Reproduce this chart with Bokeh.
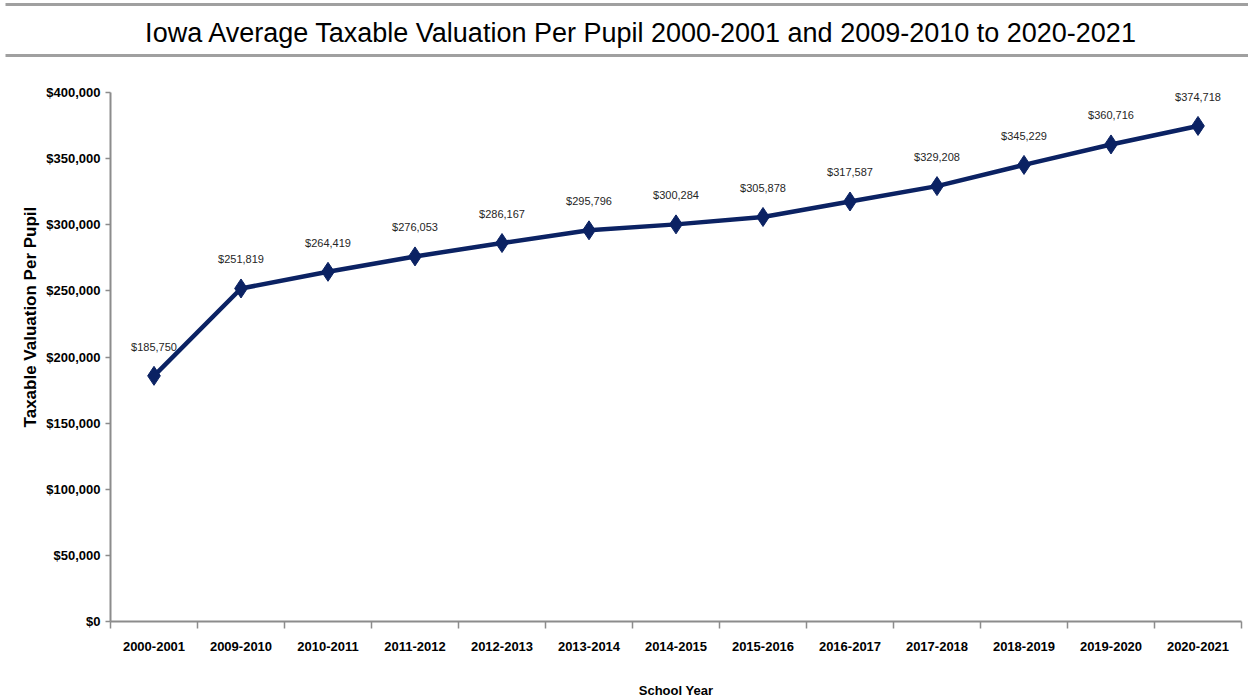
from bokeh.plotting import figure
from bokeh.layouts import row
from bokeh.models import Range1d, FixedTicker, NumeralTickFormatter, ColumnDataSource
from bokeh.core.properties import value
from bokeh.embed import file_html
from bokeh.resources import INLINE

title_text = "Iowa Average Taxable Valuation Per Pupil 2000-2001 and 2009-2010 to 2020-2021"
y_title = "Taxable Valuation Per Pupil"
x_title = "School Year"
years = ["2000-2001", "2009-2010", "2010-2011", "2011-2012", "2012-2013", "2013-2014",
         "2014-2015", "2015-2016", "2016-2017", "2017-2018", "2018-2019", "2019-2020", "2020-2021"]
valuation = [185750, 251819, 264419, 276053, 286167, 295796, 300284, 305878,
             317587, 329208, 345229, 360716, 374718]
y_ticks = [0, 50000, 100000, 150000, 200000, 250000, 300000, 350000, 400000]

FONT = "Liberation Sans"
LINE = "#0b2263"
GRAY = "#8c8c8c"

# ---- title strip (its own root, full width) ----
t = figure(width=1248, height=60, output_backend="svg", toolbar_location=None,
           x_range=Range1d(0, 1248), y_range=Range1d(0, 60),
           min_border=0, outline_line_color=None)
t.axis.visible = False
t.grid.visible = False
t.segment(x0=[5, 5], y0=[56, 5], x1=[1248, 1248], y1=[56, 5],
          line_color="#a0a0a0", line_width=3)
t.text(x=[641], y=[28], text=[title_text], text_align="center", text_baseline="middle",
       text_font=value(FONT), text_font_size="27px", text_color="#000000")

# ---- narrow strip holding the y-axis title ----
yl = figure(width=40, height=640, output_backend="svg", toolbar_location=None,
            x_range=Range1d(0, 40), y_range=Range1d(0, 530),
            min_border_left=0, min_border_right=0, min_border_top=32, min_border_bottom=78,
            outline_line_color=None)
yl.axis.visible = False
yl.grid.visible = False
yl.text(x=[30], y=[305], text=[y_title], angle=1.5707963, text_align="center",
        text_baseline="middle", text_font=value(FONT), text_font_style="bold",
        text_font_size="17px", text_color="#000000")

# ---- main chart ----
x = [i + 0.5 for i in range(len(years))]
src = ColumnDataSource(dict(x=x, y=valuation, lab=[f"${v:,}" for v in valuation]))

p = figure(width=1208, height=640, output_backend="svg", toolbar_location=None,
           x_range=Range1d(0, len(years)), y_range=Range1d(0, 400000),
           min_border_left=70, min_border_right=7, min_border_top=32, min_border_bottom=78,
           outline_line_color=None)
p.grid.visible = False

p.line("x", "y", source=src, line_color=LINE, line_width=4.5)
p.scatter("x", "y", source=src, marker="diamond", size=19, fill_color=LINE, line_color=LINE)
p.text("x", "y", text="lab", source=src, text_align="center", text_baseline="middle",
       y_offset=-29, text_font=value(FONT), text_font_size="11px", text_color="#262626")

xa = p.xaxis[0]
xa.ticker = FixedTicker(ticks=x, minor_ticks=list(range(len(years) + 1)))
xa.major_label_overrides = {xv: yr for xv, yr in zip(x, years)}
xa.major_tick_line_color = None
xa.major_tick_in = 0
xa.major_tick_out = 0
xa.minor_tick_in = 0
xa.minor_tick_out = 7
xa.minor_tick_line_color = GRAY
xa.minor_tick_line_width = 1.5
xa.axis_line_color = GRAY
xa.axis_line_width = 2
xa.major_label_standoff = 13
xa.major_label_text_font = FONT
xa.major_label_text_font_style = "bold"
xa.major_label_text_font_size = "13px"
xa.major_label_text_color = "#000000"
xa.axis_label = x_title
xa.axis_label_standoff = 29
xa.axis_label_text_font = FONT
xa.axis_label_text_font_style = "bold"
xa.axis_label_text_font_size = "13px"
xa.axis_label_text_color = "#000000"

ya = p.yaxis[0]
ya.ticker = FixedTicker(ticks=y_ticks)
ya.formatter = NumeralTickFormatter(format="$0,0")
ya.minor_tick_line_color = None
ya.major_tick_in = 0
ya.major_tick_out = 5
ya.major_tick_line_color = GRAY
ya.major_tick_line_width = 1.5
ya.axis_line_color = GRAY
ya.axis_line_width = 2
ya.major_label_standoff = 5
ya.major_label_text_font = FONT
ya.major_label_text_font_style = "bold"
ya.major_label_text_font_size = "13px"
ya.major_label_text_color = "#000000"

open("out.html", "w").write(file_html([t, row(yl, p)], INLINE))
